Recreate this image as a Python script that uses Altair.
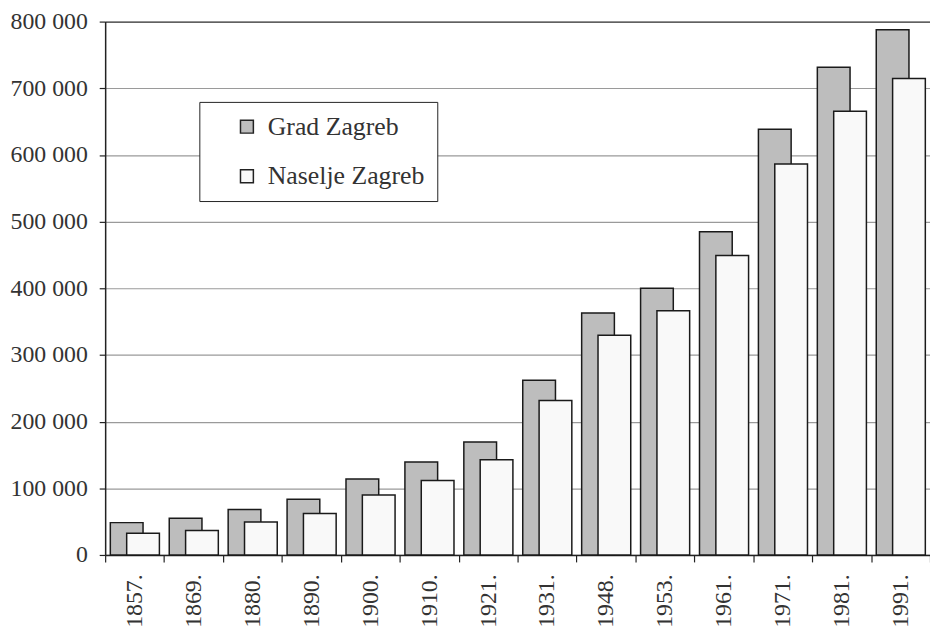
import altair as alt
import pandas as pd

years = ["1857.", "1869.", "1880.", "1890.", "1900.", "1910.", "1921.",
         "1931.", "1948.", "1953.", "1961.", "1971.", "1981.", "1991."]
grad = [48500, 55000, 68300, 83600, 113800, 139400, 169600,
        262000, 362800, 400000, 484800, 638400, 731600, 787700]
naselje = [32600, 36700, 49400, 62300, 90100, 111600, 142900,
           231600, 329700, 366300, 449000, 586300, 665700, 714800]
series = ["Grad Zagreb", "Naselje Zagreb"]
colors = ["#bdbdbd", "#f9f9f9"]
y_ticks = [0, 100000, 200000, 300000, 400000, 500000, 600000, 700000, 800000]

df = pd.DataFrame({
    "year": years * 2,
    "value": grad + naselje,
    "series": [series[0]] * len(years) + [series[1]] * len(years),
})

FONT = "Liberation Serif"

x_enc = alt.X(
    "year:N", sort=years, title=None,
    scale=alt.Scale(paddingInner=0, paddingOuter=0),
    axis=alt.Axis(
        labelAngle=270, labelFontSize=24, labelColor="#333", labelFont=FONT,
        tickBand="extent", tickSize=7, tickColor="#222", tickWidth=1.2,
        domainColor="#222", domainWidth=1.5, labelPadding=12, grid=False,
    ),
)

y_axis = alt.Axis(
    values=y_ticks, title=None,
    labelExpr="replace(format(datum.value, ','), ',', ' ')",
    labelFontSize=24, labelColor="#333", labelFont=FONT, labelPadding=12,
    tickSize=6, tickColor="#222", tickWidth=1.2,
    domainColor="#222", domainWidth=1.5,
    grid=True, gridWidth=1.2,
    gridColor=alt.condition("datum.value == 800000", alt.value("#333"), alt.value("#9a9a9a")),
)

color_enc = alt.Color(
    "series:N",
    scale=alt.Scale(domain=series, range=colors),
    legend=alt.Legend(
        title=None, orient="none", legendX=95, legendY=81,
        padding=12, rowPadding=24, symbolType="square", symbolSize=169,
        symbolOffset=23, labelOffset=8, symbolStrokeColor="#222", symbolStrokeWidth=1.5,
        labelFontSize=26, labelFont=FONT, labelColor="#333",
        strokeColor="#222", fillColor="white",
        labelExpr="datum.label + '\u00a0\u00a0\u00a0\u00a0\u00a0'",
    ),
)

base = alt.Chart(df)

gray_bars = base.transform_filter(
    alt.datum.series == series[0]
).mark_bar(width=33, xOffset=-8, stroke="#1a1a1a", strokeWidth=1.5).encode(
    x=x_enc,
    y=alt.Y("value:Q", scale=alt.Scale(domain=[0, 800000], nice=False), axis=y_axis),
    color=color_enc,
)

white_bars = base.transform_filter(
    alt.datum.series == series[1]
).mark_bar(width=33, xOffset=8.5, stroke="#1a1a1a", strokeWidth=1.5).encode(
    x=x_enc,
    y=alt.Y("value:Q"),
    color=color_enc,
)

chart = alt.layer(gray_bars, white_bars).properties(
    width=832, height=538,
    padding={"left": 98, "top": 11, "right": 0, "bottom": 76},
    autosize=alt.AutoSizeParams(type="none"),
).configure_view(stroke=None).configure(font=FONT)

chart.save("out.html", embed_options={"renderer": "svg", "actions": False})
